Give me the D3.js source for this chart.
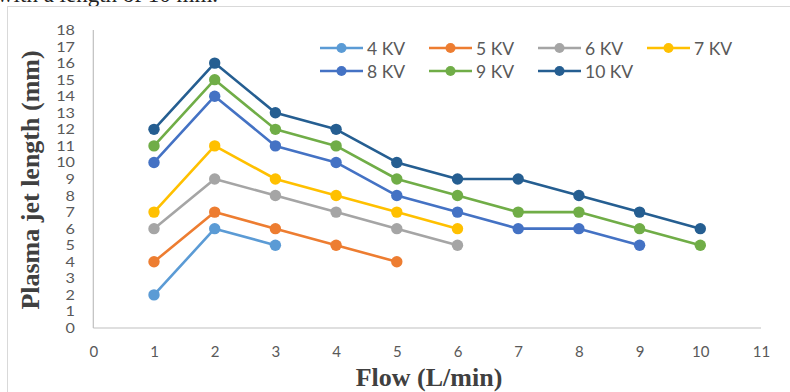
<!DOCTYPE html>
<html>
<head>
<meta charset="utf-8">
<script src="https://cdn.jsdelivr.net/npm/d3@7"></script>
<style>
  html, body { margin: 0; padding: 0; background: #fff; }
  svg { display: block; }
</style>
</head>
<body>
<svg id="chart" width="790" height="392"></svg>
<script>
// ---- data ----
const flowTicks = [0, 1, 2, 3, 4, 5, 6, 7, 8, 9, 10, 11];
const lengthTicks = d3.range(0, 19);
const seriesNames = ["4 KV", "5 KV", "6 KV", "7 KV", "8 KV", "9 KV", "10 KV"];
const flow = [1, 2, 3, 4, 5, 6, 7, 8, 9, 10];
const kv4  = [2, 6, 5];
const kv5  = [4, 7, 6, 5, 4];
const kv6  = [6, 9, 8, 7, 6, 5];
const kv7  = [7, 11, 9, 8, 7, 6];
const kv8  = [10, 14, 11, 10, 8, 7, 6, 6, 5];
const kv9  = [11, 15, 12, 11, 9, 8, 7, 7, 6, 5];
const kv10 = [12, 16, 13, 12, 10, 9, 9, 8, 7, 6];
const seriesValues = [kv4, kv5, kv6, kv7, kv8, kv9, kv10];
const colors = ["#5B9BD5", "#ED7D31", "#A5A5A5", "#FFC000", "#4472C4", "#70AD47", "#255E91"];

const svg = d3.select("#chart");
const textColor = "#595959";

// cut-off caption text at the very top
svg.append("text")
  .attr("x", -3).attr("y", 2)
  .attr("font-family", "Liberation Serif, Times New Roman, serif")
  .attr("font-size", 23)
  .attr("fill", "#222")
  .text("with a length of 10 mm.");

// chart frame
svg.append("rect")
  .attr("x", 7.5).attr("y", 6.5)
  .attr("width", 820).attr("height", 420)
  .attr("fill", "#fff")
  .attr("stroke", "#d9d9d9").attr("stroke-width", 1);

const x = d3.scaleLinear().domain([0, 11]).range([93.3, 761]);
const y = d3.scaleLinear().domain([0, 18]).range([328, 30]);

// axes lines
svg.append("line")
  .attr("x1", x(0)).attr("x2", x(0))
  .attr("y1", y(18)).attr("y2", y(0))
  .attr("stroke", "#bfbfbf").attr("stroke-width", 1.2);
svg.append("line")
  .attr("x1", x(0)).attr("x2", x(11))
  .attr("y1", y(0)).attr("y2", y(0))
  .attr("stroke", "#bfbfbf").attr("stroke-width", 1.2);

// y tick labels
const yAxis = d3.axisLeft(y).tickValues(lengthTicks).tickSize(0).tickPadding(0);
const gy = svg.append("g").attr("transform", `translate(75,0)`).call(yAxis);
gy.select(".domain").remove();
gy.selectAll(".tick text")
  .attr("font-family", "Lato, Carlito, sans-serif")
  .attr("font-size", 12.5)
  .attr("fill", textColor)
  .attr("x", 0)
  .attr("dy", "0.36em")
  .attr("transform", "scale(1.3,1)")
  .attr("text-anchor", "end");
// keep anchored at right edge after scale
gy.selectAll(".tick text").attr("x", 0);

// x tick labels
const xAxis = d3.axisBottom(x).tickValues(flowTicks).tickSize(0).tickPadding(0);
const gx = svg.append("g").attr("transform", `translate(0,352)`).call(xAxis);
gx.select(".domain").remove();
gx.selectAll(".tick text")
  .attr("font-family", "Lato, Carlito, sans-serif")
  .attr("font-size", 15)
  .attr("fill", textColor)
  .attr("dy", "0.36em")
  .attr("y", 0);

// axis titles
svg.append("text")
  .attr("x", 429).attr("y", 386)
  .attr("text-anchor", "middle")
  .attr("font-family", "Liberation Serif, Times New Roman, serif")
  .attr("font-weight", "bold")
  .attr("font-size", 26)
  .attr("fill", "#404040")
  .text("Flow (L/min)");
svg.append("text")
  .attr("transform", "translate(39,180) rotate(-90)")
  .attr("text-anchor", "middle")
  .attr("font-family", "Liberation Serif, Times New Roman, serif")
  .attr("font-weight", "bold")
  .attr("font-size", 26)
  .attr("fill", "#404040")
  .text("Plasma jet length (mm)");

// series
const line = d3.line().x(d => x(d[0])).y(d => y(d[1]));
seriesValues.forEach((vals, i) => {
  const pts = vals.map((v, j) => [flow[j], v]);
  const g = svg.append("g");
  g.append("path")
    .attr("d", line(pts))
    .attr("fill", "none")
    .attr("stroke", colors[i])
    .attr("stroke-width", 2.6)
    .attr("stroke-linejoin", "round");
  g.selectAll("circle").data(pts).enter().append("circle")
    .attr("cx", d => x(d[0])).attr("cy", d => y(d[1]))
    .attr("r", 5.7)
    .attr("fill", colors[i]);
});

// legend
const legend = svg.append("g");
seriesNames.forEach((name, i) => {
  const col = i < 4 ? i : i - 4;
  const row = i < 4 ? 0 : 1;
  const lx = 320 + col * 109;
  const ly = 48 + row * 23;
  const g = legend.append("g");
  g.append("line")
    .attr("x1", lx).attr("x2", lx + 43)
    .attr("y1", ly).attr("y2", ly)
    .attr("stroke", colors[i]).attr("stroke-width", 2.6);
  g.append("circle")
    .attr("cx", lx + 21.5).attr("cy", ly).attr("r", 5)
    .attr("fill", colors[i]);
  g.append("text")
    .attr("x", lx + 47).attr("y", ly + 7)
    .attr("font-family", "Lato, Carlito, sans-serif")
    .attr("font-size", 17.5)
    .attr("fill", textColor)
    .text(name);
});
</script>
</body>
</html>
